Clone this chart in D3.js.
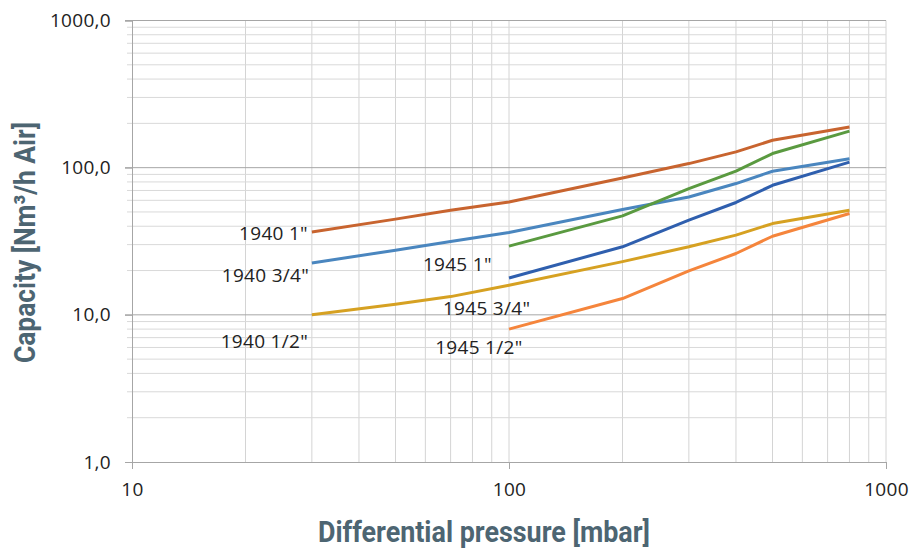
<!DOCTYPE html>
<html lang="en">
<head>
    <meta charset="UTF-8">
    <title>Capacity vs differential pressure</title>
    <script src="https://d3js.org/d3.v7.min.js"></script>
    <style>
        body {
            margin: 0;
            background: #fff;
        }

        .tick-label, .series-label {
            font-family: "Open Sans", Arial, sans-serif;
            font-size: 19px;
            letter-spacing: 0.3px;
            fill: #222;
        }

        .axis-title {
            font-family: Roboto, "Liberation Sans", sans-serif;
            font-weight: bold;
            font-size: 30px;
            fill: #4d6572;
        }
    </style>
</head>
<body>
    <div id="chart"></div>

    <script>
        // Data (pressure in mbar, capacity in Nm3/h air)
        const pressure1940 = [30, 50, 70, 100, 200, 300, 400, 500, 800];
        const pressure1945 = [100, 200, 300, 400, 500, 800];

        const cap1940_1 = [36.6, 44.7, 51.4, 58.5, 85, 106.6, 128, 153.5, 189];
        const cap1940_34 = [22.5, 27.5, 31.5, 36.3, 52, 63.2, 78, 94.6, 115];
        const cap1940_12 = [10, 11.8, 13.3, 15.9, 23, 29, 34.8, 41.7, 51.4];
        const cap1945_1 = [29.3, 47, 72, 94.6, 124.7, 177];
        const cap1945_34 = [17.8, 29, 44, 58, 75.9, 109];
        const cap1945_12 = [8.0, 12.9, 19.9, 26.1, 34.2, 48.8];

        const xTicks = [10, 100, 1000];
        const yTicks = [1, 10, 100, 1000];

        const series = [
            { name: '1940 1"', x: pressure1940, y: cap1940_1, color: "#c8642f", label: [29.3, 35.9], anchor: "end" },
            { name: '1940 3/4"', x: pressure1940, y: cap1940_34, color: "#4a86bf", label: [29.5, 18.6], anchor: "end" },
            { name: '1940 1/2"', x: pressure1940, y: cap1940_12, color: "#d6a122", label: [29.3, 6.63], anchor: "end" },
            { name: '1945 1"', x: pressure1945, y: cap1945_1, color: "#5a9a40", label: [59.1, 22.1], anchor: "start" },
            { name: '1945 3/4"', x: pressure1945, y: cap1945_34, color: "#2f5fae", label: [66.8, 11.1], anchor: "start" },
            { name: '1945 1/2"', x: pressure1945, y: cap1945_12, color: "#f5853c", label: [63.7, 6.04], anchor: "start" }
        ];

        const margin = { top: 20.5, right: 24, bottom: 88, left: 132 },
              width = 910 - margin.left - margin.right,
              height = 550 - margin.top - margin.bottom;

        const svg = d3.select("#chart")
            .append("svg")
            .attr("width", 910)
            .attr("height", 550);

        const g = svg.append("g")
            .attr("transform", `translate(${margin.left},${margin.top})`);

        const x = d3.scaleLog().domain([10, 1000]).range([0, width]);
        const y = d3.scaleLog().domain([1, 1000]).range([height, 0]);

        // minor positions 2..9 inside every decade
        const minorX = [];
        [10, 100].forEach(d => { for (let k = 2; k <= 9; k++) minorX.push(d * k); });
        const minorY = [];
        [1, 10, 100].forEach(d => { for (let k = 2; k <= 9; k++) minorY.push(d * k); });

        // vertical gridlines
        g.append("g")
            .selectAll("line")
            .data(minorX.concat([100, 1000]))
            .join("line")
            .attr("x1", d => x(d)).attr("x2", d => x(d))
            .attr("y1", 0).attr("y2", height)
            .attr("stroke", "#d4d4d4")
            .attr("stroke-width", 1);

        // horizontal minor gridlines + small ticks
        g.append("g")
            .selectAll("line")
            .data(minorY)
            .join("line")
            .attr("x1", -5).attr("x2", width)
            .attr("y1", d => y(d)).attr("y2", d => y(d))
            .attr("stroke", "#d9d9d9")
            .attr("stroke-width", 1);

        // decade lines
        g.append("g")
            .selectAll("line")
            .data(yTicks.slice(1))
            .join("line")
            .attr("x1", -7).attr("x2", width)
            .attr("y1", d => y(d)).attr("y2", d => y(d))
            .attr("stroke", "#a6a6a6")
            .attr("stroke-width", 1);

        // y axis
        const fmt = d => d3.format(".1f")(d).replace(".", ",");
        const yAxis = g.append("g")
            .call(d3.axisLeft(y).tickValues(yTicks).tickFormat(fmt).tickSize(7).tickPadding(14));
        yAxis.select(".domain").attr("stroke", "#a6a6a6");
        yAxis.selectAll(".tick line").attr("stroke", "#a6a6a6");
        yAxis.selectAll(".tick text").attr("class", "tick-label").attr("font-size", null).attr("font-family", null);

        // x axis
        const xAxis = g.append("g")
            .attr("transform", `translate(0,${height})`)
            .call(d3.axisBottom(x).tickValues(xTicks).tickFormat(d3.format("d")).tickSize(7).tickPadding(14));
        xAxis.select(".domain").attr("stroke", "#a6a6a6");
        xAxis.selectAll(".tick line").attr("stroke", "#a6a6a6");
        xAxis.selectAll(".tick text").attr("class", "tick-label").attr("font-size", null).attr("font-family", null);

        // series lines
        const line = d3.line()
            .x(d => x(d[0]))
            .y(d => y(d[1]));

        series.forEach(s => {
            g.append("path")
                .datum(s.x.map((p, i) => [p, s.y[i]]))
                .attr("fill", "none")
                .attr("stroke", s.color)
                .attr("stroke-width", 3)
                .attr("stroke-linejoin", "round")
                .attr("d", line);

            g.append("text")
                .attr("class", "series-label")
                .attr("x", x(s.label[0]))
                .attr("y", y(s.label[1]))
                .attr("dy", "0.35em")
                .attr("text-anchor", s.anchor)
                .text(s.name);
        });

        // axis titles (condensed look via textLength)
        svg.append("text")
            .attr("class", "axis-title")
            .attr("x", 318)
            .attr("y", 542)
            .attr("textLength", 332)
            .attr("lengthAdjust", "spacingAndGlyphs")
            .text("Differential pressure [mbar]");

        svg.append("text")
            .attr("class", "axis-title")
            .attr("transform", "translate(35,363) rotate(-90)")
            .attr("textLength", 241)
            .attr("lengthAdjust", "spacingAndGlyphs")
            .text("Capacity [Nm³/h Air]");
    </script>
</body>
</html>
